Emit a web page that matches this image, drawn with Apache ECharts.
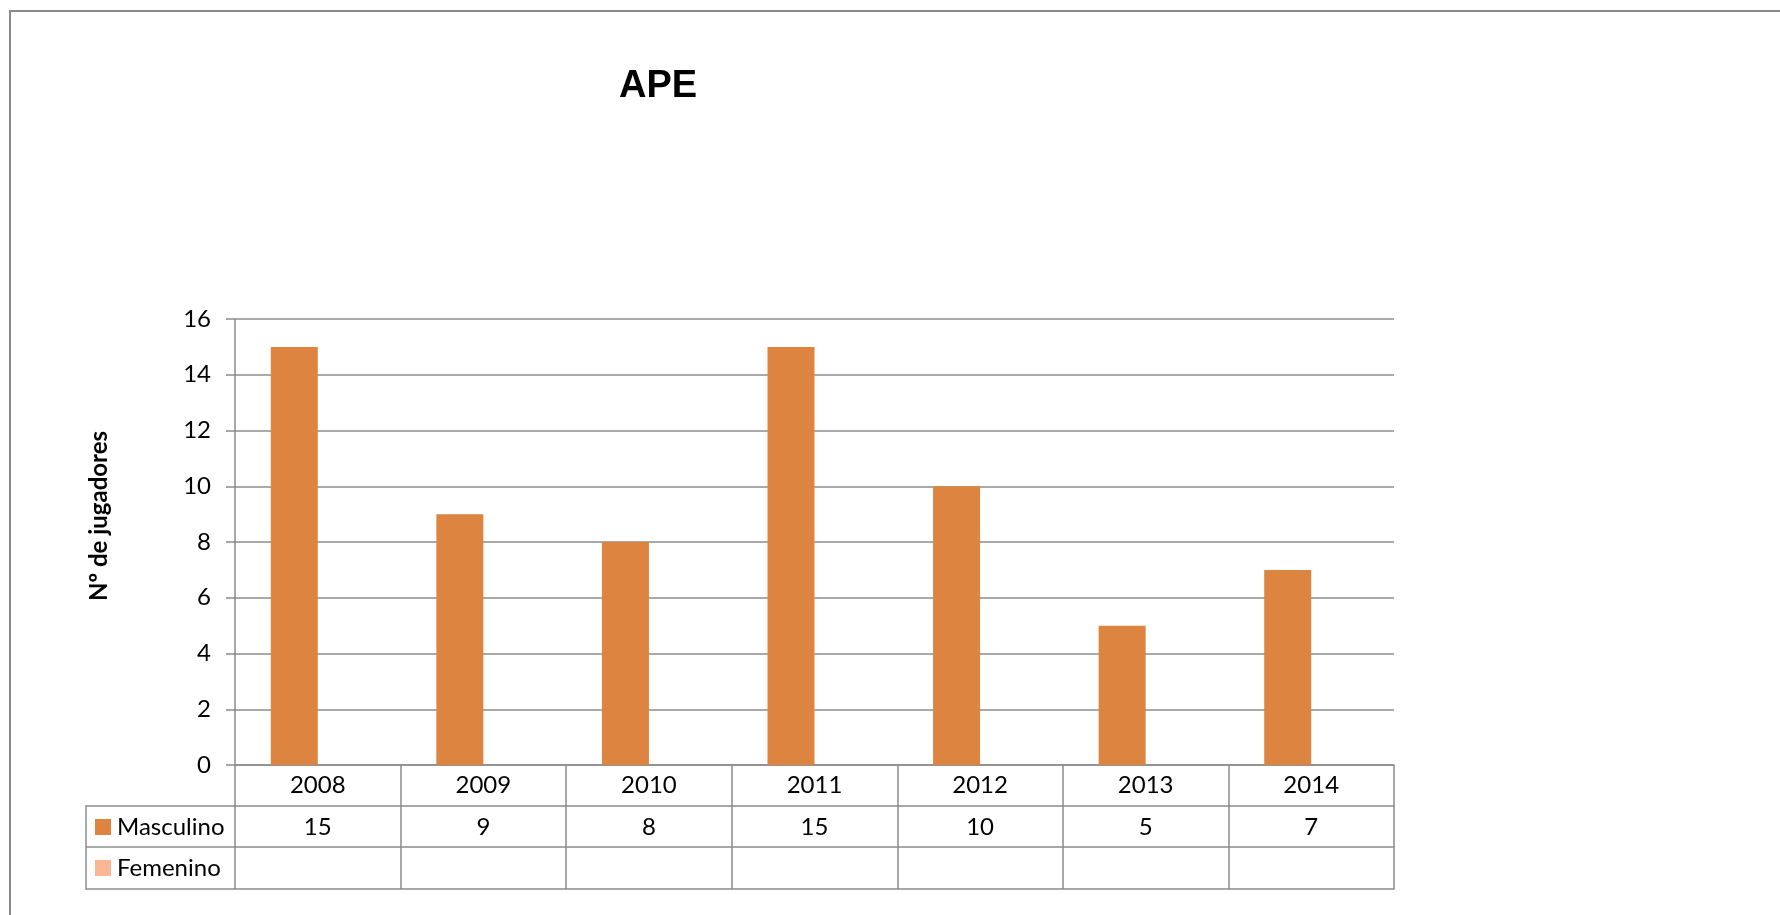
<!DOCTYPE html>
<html>
<head>
<meta charset="utf-8">
<script src="https://cdn.jsdelivr.net/npm/echarts@6/dist/echarts.min.js"></script>
<style>
html,body{margin:0;padding:0;background:#fff;}
#c{width:1780px;height:915px;}
</style>
</head>
<body>
<div id="c"></div>
<script>
var years = ['2008', '2009', '2010', '2011', '2012', '2013', '2014'];
var masculino = [15, 9, 8, 15, 10, 5, 7];
var femenino = [null, null, null, null, null, null, null];
var yTicks = { min: 0, max: 16, interval: 2 };
var titleText = 'APE';
var yName = 'Nº de jugadores';
var seriesNames = ['Masculino', 'Femenino'];

var grey = '#8c8c8c';
var font = 'Lato';
var chart = echarts.init(document.getElementById('c'));

function tableAxis(offset, labels, margin) {
  return {
    type: 'category', data: labels, position: 'bottom', offset: offset,
    axisLine: { show: true, lineStyle: { color: grey, width: 1.5 } },
    axisTick: { show: false },
    axisLabel: { show: true, interval: 0, margin: margin, color: '#000', fontFamily: font, fontSize: 24 },
    splitLine: { show: false }
  };
}

chart.setOption({
  animation: false,
  backgroundColor: '#fff',
  title: {
    text: titleText, left: 614, top: 63,
    textStyle: { fontFamily: 'Liberation Sans', fontWeight: 'bold', fontSize: 38, color: '#000' }
  },
  legend: {
    orient: 'vertical', left: 95, top: 815, itemGap: 17, padding: 0,
    itemWidth: 16, itemHeight: 16, icon: 'rect', selectedMode: false,
    data: seriesNames,
    textStyle: { fontFamily: font, fontSize: 24, color: '#000', padding: [0, 0, 0, 1] }
  },
  grid: { left: 235, right: 386, top: 319, bottom: 150, containLabel: false },
  xAxis: [
    {
      type: 'category', data: years, position: 'bottom',
      axisLine: { show: true, lineStyle: { color: grey, width: 1.5 } },
      axisTick: { show: true, interval: 0, length: 124, lineStyle: { color: grey, width: 1.5 } },
      axisLabel: { interval: 0, margin: 8, color: '#000', fontFamily: font, fontSize: 24 },
      splitLine: { show: false }
    },
    tableAxis(41, masculino.map(function (v) { return v == null ? '' : String(v); }), 9),
    tableAxis(82, femenino.map(function (v) { return v == null ? '' : String(v); }), 9),
    tableAxis(124, years.map(function () { return ''; }), 9)
  ],
  yAxis: {
    type: 'value', min: yTicks.min, max: yTicks.max, interval: yTicks.interval,
    name: yName, nameLocation: 'middle', nameGap: 124, nameRotate: 90,
    nameTextStyle: { fontFamily: font, fontWeight: 'bold', fontSize: 24, color: '#000', padding: [0, 0, 0, 52] },
    axisLine: { show: true, lineStyle: { color: grey, width: 1.5 } },
    axisTick: { show: true, length: 9, lineStyle: { color: grey, width: 1.5 } },
    axisLabel: { margin: 24, color: '#000', fontFamily: font, fontSize: 24 },
    splitLine: { show: true, lineStyle: { color: grey, width: 1.5 } }
  },
  series: [
    { name: seriesNames[0], type: 'bar', xAxisIndex: 0, data: masculino, barWidth: 47, barGap: '0%',
      itemStyle: { color: '#dd8440' } },
    { name: seriesNames[1], type: 'bar', xAxisIndex: 0, data: femenino, barWidth: 47, barGap: '0%',
      itemStyle: { color: '#f9b893' } }
  ],
  graphic: [
    { type: 'rect', shape: { x: 10, y: 11, width: 1800, height: 950 }, style: { fill: null, stroke: '#8a8a8a', lineWidth: 2 }, silent: true },
    { type: 'line', shape: { x1: 86, y1: 806, x2: 235, y2: 806 }, style: { stroke: grey, lineWidth: 1.5 }, silent: true },
    { type: 'line', shape: { x1: 86, y1: 847, x2: 235, y2: 847 }, style: { stroke: grey, lineWidth: 1.5 }, silent: true },
    { type: 'line', shape: { x1: 86, y1: 889, x2: 235, y2: 889 }, style: { stroke: grey, lineWidth: 1.5 }, silent: true },
    { type: 'line', shape: { x1: 86, y1: 805.25, x2: 86, y2: 889.75 }, style: { stroke: grey, lineWidth: 1.5 }, silent: true }
  ]
});
</script>
</body>
</html>
